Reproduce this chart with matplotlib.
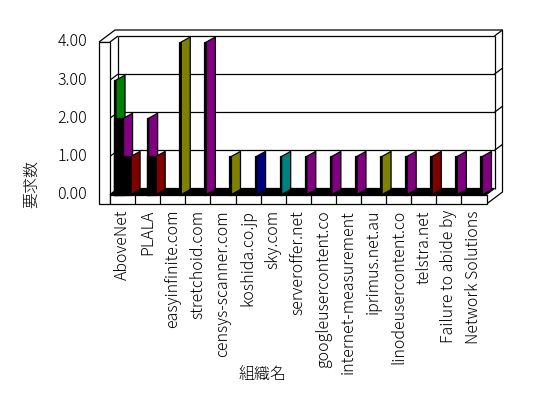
import numpy as np
import matplotlib.pyplot as plt
from matplotlib.patches import Polygon, Rectangle

plt.rcParams['font.family'] = ['Noto Sans CJK JP', 'DejaVu Sans']
plt.rcParams['font.weight'] = 'light'

# 組織名ごとの要求数 (系列は色で区別)
categories = ['AboveNet', 'PLALA', 'easyinfinite.com', 'stretchoid.com',
              'censys-scanner.com', 'koshida.co.jp', 'sky.com', 'serveroffer.net',
              'googleusercontent.co', 'internet-measurement', 'iprimus.net.au',
              'linodeusercontent.co', 'telstra.net', 'Failure to abide by',
              'Network Solutions']
green_vals   = [3, 0, 0, 0, 0, 0, 0, 0, 0, 0, 0, 0, 0, 0, 0]
purple_vals  = [2, 2, 0, 4, 0, 0, 0, 1, 1, 1, 0, 1, 0, 1, 1]
darkred_vals = [1, 1, 0, 0, 0, 0, 0, 0, 0, 0, 0, 0, 1, 0, 0]
olive_vals   = [0, 0, 4, 0, 1, 0, 0, 0, 0, 0, 1, 0, 0, 0, 0]
navy_vals    = [0, 0, 0, 0, 0, 1, 0, 0, 0, 0, 0, 0, 0, 0, 0]
teal_vals    = [0, 0, 0, 0, 0, 0, 1, 0, 0, 0, 0, 0, 0, 0, 0]
y_ticks = [0, 1, 2, 3, 4]

series = [(green_vals, '#008000'), (purple_vals, '#800080'),
          (darkred_vals, '#800000'), (olive_vals, '#808000'),
          (navy_vals, '#000080'), (teal_vals, '#008080')]

W, H = 548, 398
fig = plt.figure(figsize=(W / 100, H / 100), dpi=100)
fig.patch.set_facecolor('white')
ax = fig.add_axes([110 / W, 1 - 194.5 / H, 376.5 / W, 152.5 / H])
n_cat = len(categories)
ymax = max(y_ticks)
ax.set_xlim(0, n_cat)
ax.set_ylim(0, ymax)
ax.axis('off')

# pixel -> data units
PX = n_cat / 376.5
PY = ymax / 152.5
Dx, Dy = 8 * PX, 6 * PY      # depth of the box
bx, by = 9 * PX, 5 * PY      # depth of the bars
WL = 11 * PX                 # left wall thickness
FT = 9.5 * PY                # floor thickness
lw = 0.9


def line(xs, ys, color='black', lw=lw, z=2):
    ax.plot(xs, ys, color=color, lw=lw, clip_on=False, zorder=z,
            solid_capstyle='butt')


# back wall + gridlines
for v in y_ticks[1:]:
    line([Dx, n_cat + Dx], [v + Dy, v + Dy])
    line([0, Dx], [v, v + Dy])
    line([-WL, 0], [v, v])
    line([n_cat + Dx, n_cat + 2 * Dx], [v + Dy, v + 2 * Dy])
line([Dx, Dx], [Dy, ymax + Dy])
line([n_cat + Dx, n_cat + Dx], [Dy, ymax + Dy])

# left wall front face
ax.add_patch(Rectangle((-WL, -FT), WL, ymax + FT, facecolor='white',
                       edgecolor='black', lw=lw, clip_on=False, zorder=2))
# outer silhouette
line([-WL, -WL + 2 * Dx, n_cat + 2 * Dx, n_cat + 2 * Dx, n_cat],
     [ymax, ymax + 2 * Dy, ymax + 2 * Dy, -FT + 2 * Dy, -FT])

# floor top (black) and front slab
ax.add_patch(Polygon([(0, 0), (n_cat, 0), (n_cat + Dx, Dy), (Dx, Dy)],
                     closed=True, facecolor='black', edgecolor='black',
                     lw=lw, clip_on=False, zorder=2))
ax.add_patch(Rectangle((0, -FT), n_cat, FT, facecolor='white',
                       edgecolor='black', lw=lw, clip_on=False, zorder=2))
for i in range(1, n_cat):
    line([i, i], [-FT, 0])
for i in range(1, n_cat + 1):
    line([i - 0.2, i - 0.2 + Dx * 0.9], [0.01, Dy * 0.9],
         color='white', lw=1.6, z=3)

# bars
S = 0.3
for i in range(n_cat):
    active = [(vals[i], c) for vals, c in series if vals[i] > 0]
    n = len(active)
    left = i + 0.84 - (n - 1) * S - 2 * PX
    for k, (v, c) in enumerate(active):
        xf = i + 0.84 - (n - 1 - k) * S
        ax.add_patch(Rectangle((left, 0), xf - left, v, facecolor='black',
                               edgecolor='black', lw=lw, clip_on=False,
                               zorder=4 + k))
        ax.add_patch(Polygon([(xf, 0), (xf, v), (xf + bx, v + by), (xf + bx, by)],
                             closed=True, facecolor=c, edgecolor='black',
                             lw=lw, clip_on=False, zorder=4 + k))

# labels
for v in y_ticks:
    ax.text(-23 * PX, v, f'{v:.2f}', ha='right', va='center', fontsize=11.5)
for i, name in enumerate(categories):
    ax.text(i + 0.5, -15.5 * PY, name, rotation=90, ha='center', va='top',
            fontsize=11.5)
fig.text(32 / W, 1 - 184 / H, '要求数', rotation=90, ha='center', va='center',
         fontsize=11.5)
fig.text(262 / W, 1 - 375 / H, '組織名', ha='center', va='center', fontsize=11.5)

fig.savefig('out.png', dpi=100, facecolor='white')
